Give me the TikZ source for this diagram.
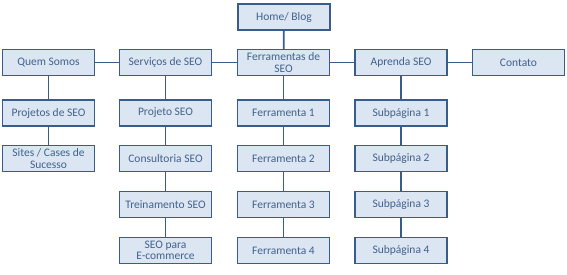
\documentclass[tikz,border=0pt]{standalone}
\usepackage{fontspec}
\setmainfont{Carlito}
\usetikzlibrary{backgrounds}
\definecolor{boxfill}{HTML}{DCE6F2}
\definecolor{boxline}{HTML}{385D8A}
\definecolor{boxtext}{HTML}{41618C}
\begin{document}
\begin{tikzpicture}[x=1pt,y=-1pt,
  pagebox/.style={draw=boxline,fill=boxfill,line width=1.8pt,minimum width=92pt,minimum height=26pt,
    inner sep=1pt,align=center,text=boxtext,font=\fontsize{11.5}{11.5}\selectfont},
  link/.style={draw=boxline,line width=1.8pt}]
\useasboundingbox (0,0) rectangle (567,274);
\node[pagebox] (home) at (284,17) {Home/ Blog};
\node[pagebox] (quem) at (48.5,62.5) {Quem Somos};
\node[pagebox] (serv) at (165.5,62.5) {Serviços de SEO};
\node[pagebox] (ferr) at (283.5,62.5) {Ferramentas de\\SEO};
\node[pagebox] (apr) at (401,62.5) {Aprenda SEO};
\node[pagebox] (cont) at (518.5,62.5) {Contato};
\node[pagebox] (proj) at (48.5,113) {Projetos de SEO};
\node[pagebox] (projseo) at (165.5,113) {Projeto SEO};
\node[pagebox] (f1) at (283.5,113) {Ferramenta 1};
\node[pagebox] (s1) at (401,113) {Subpágina 1};
\node[pagebox] (sites) at (48.5,158.5) {Sites / Cases de\\Sucesso};
\node[pagebox] (cons) at (165.5,158.5) {Consultoria SEO};
\node[pagebox] (f2) at (283.5,158.5) {Ferramenta 2};
\node[pagebox] (s2) at (401,158.5) {Subpágina 2};
\node[pagebox] (trein) at (165.5,204.5) {Treinamento SEO};
\node[pagebox] (f3) at (283.5,204.5) {Ferramenta 3};
\node[pagebox] (s3) at (401,204.5) {Subpágina 3};
\node[pagebox] (ecom) at (165.5,250.5) {SEO para\\E-commerce};
\node[pagebox] (f4) at (283.5,250.5) {Ferramenta 4};
\node[pagebox] (s4) at (401,250.5) {Subpágina 4};
\begin{scope}[on background layer]
\draw[link] (home.center) -- (ferr.center);
\draw[link] (quem.center) -- (serv.center);
\draw[link] (serv.center) -- (ferr.center);
\draw[link] (ferr.center) -- (apr.center);
\draw[link] (apr.center) -- (cont.center);
\draw[link] (quem.center) -- (proj.center);
\draw[link] (proj.center) -- (sites.center);
\draw[link] (serv.center) -- (projseo.center);
\draw[link] (projseo.center) -- (cons.center);
\draw[link] (cons.center) -- (trein.center);
\draw[link] (trein.center) -- (ecom.center);
\draw[link] (ferr.center) -- (f1.center);
\draw[link] (f1.center) -- (f2.center);
\draw[link] (f2.center) -- (f3.center);
\draw[link] (f3.center) -- (f4.center);
\draw[link] (apr.center) -- (s1.center);
\draw[link] (s1.center) -- (s2.center);
\draw[link] (s2.center) -- (s3.center);
\draw[link] (s3.center) -- (s4.center);
\end{scope}
\end{tikzpicture}
\end{document}
